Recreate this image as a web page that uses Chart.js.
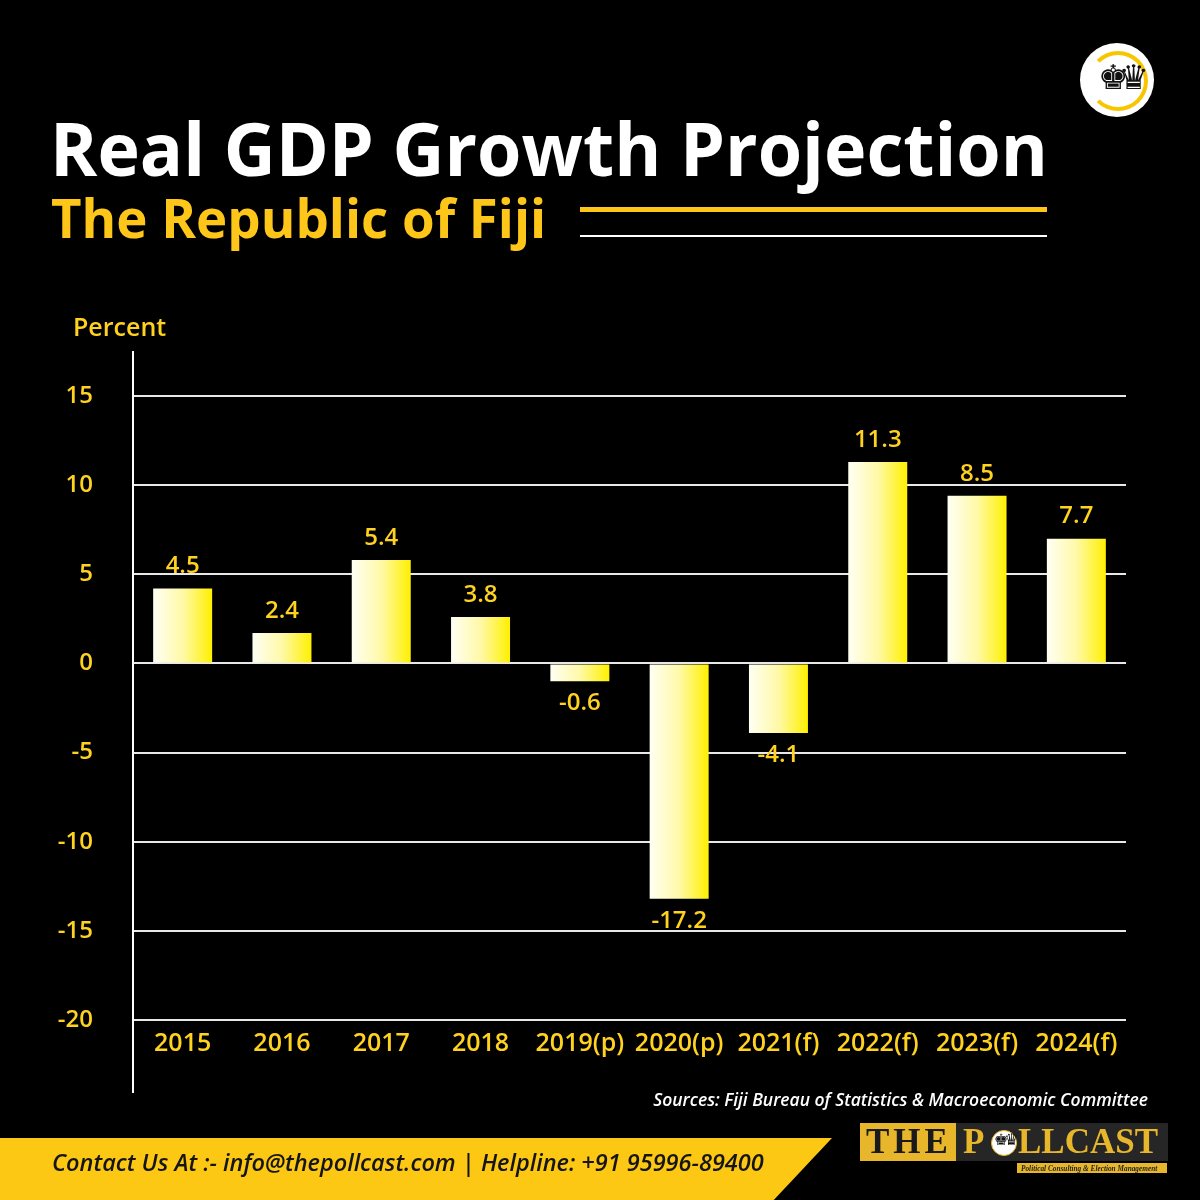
<!DOCTYPE html>
<html lang="en">

<head>
    <meta charset="UTF-8">
    <title>Real GDP Growth Projection - Fiji</title>
    <style>
        html, body { margin: 0; padding: 0; background: #000; }
        #page { position: relative; width: 1200px; height: 1200px; background: #000; overflow: hidden; font-family: 'Open Sans', sans-serif; }
        #chart { position: absolute; left: 0; top: 0; }
        .abs { position: absolute; white-space: nowrap; line-height: 1; }
        .serif { font-family: 'Liberation Serif', serif; font-weight: 700; font-size: 35px; }
    </style>
</head>

<body>
    <div id="page">
        <canvas id="chart" width="1200" height="1200"></canvas>

        <div class="abs" style="left: 50px; top: 111px; font-size: 74px; font-weight: 700; color: #fff; transform: scaleX(0.97); transform-origin: left;">Real GDP Growth Projection</div>
        <div class="abs" style="left: 51px; top: 190px; font-size: 54px; font-weight: 700; color: #ffc61a; transform: scaleX(0.978); transform-origin: left;">The Republic of Fiji</div>
        <div class="abs" style="left: 580px; top: 207px; width: 467px; height: 5px; background: #ffc61a;"></div>
        <div class="abs" style="left: 580px; top: 235px; width: 467px; height: 2px; background: #fff;"></div>

        <div class="abs" style="left: 73px; top: 314px; font-size: 25px; font-weight: 600; color: #ffd21f;">Percent</div>

        <!-- round logo top right -->
        <div class="abs" style="left: 1080px; top: 43px; width: 74px; height: 74px; border-radius: 50%; background: #fff;"></div>
        <div class="abs" style="left: 1088px; top: 51px; width: 52px; height: 52px; border-radius: 50%; border: 4px solid #f7c600; border-left-color: transparent;"></div>
        <div class="abs" style="left: 1098px; top: 60px; font-family: 'DejaVu Sans'; font-size: 34px; color: #111; letter-spacing: -10px;">&#9818;&#9819;</div>

        <div class="abs" style="right: 52px; top: 1091px; font-size: 17.5px; font-style: italic; font-weight: 600; color: #fff;">Sources: Fiji Bureau of Statistics &amp; Macroeconomic Committee</div>

        <div class="abs" style="left: 0; top: 1138px; width: 832px; height: 62px; background: #fdc814; clip-path: polygon(0 0, 100% 0, 93% 100%, 0 100%);"></div>
        <div class="abs" style="left: 52px; top: 1151px; font-size: 23.5px; font-style: italic; font-weight: 600; color: #151515;">Contact Us At :- info@thepollcast.com | Helpline: +91 95996-89400</div>

        <!-- wordmark bottom right -->
        <div class="abs" style="left: 860px; top: 1123px; width: 96px; height: 38px; background: #e7b62a;"></div>
        <div class="abs" style="left: 956px; top: 1123px; width: 212px; height: 38px; background: #262626;"></div>
        <div class="abs serif" style="left: 866px; top: 1124px; color: #1a1a1a; letter-spacing: 4px;">THE</div>
        <div class="abs serif" style="left: 963px; top: 1124px; color: #e7b62a;">P</div>
        <div class="abs" style="left: 991px; top: 1130px; width: 24px; height: 24px; border-radius: 50%; background: #fff; border: 1px solid #e7b62a;"></div>
        <div class="abs" style="left: 994px; top: 1132px; font-family: 'DejaVu Sans'; font-size: 16px; color: #111; letter-spacing: -4px;">&#9818;&#9819;</div>
        <div class="abs serif" style="left: 1018px; top: 1124px; color: #e7b62a;">LLCAST</div>
        <div class="abs" style="left: 1017px; top: 1163px; width: 150px; height: 10px; background: #e7b62a;"></div>
        <div class="abs" style="left: 1021px; top: 1164.5px; font-family: 'Liberation Serif'; font-style: italic; font-weight: 700; font-size: 7.3px; color: #222;">Political Consulting &amp; Election Management</div>
    </div>

    <script src="https://cdn.jsdelivr.net/npm/chart.js"></script>

    <script>
        const years = ['2015', '2016', '2017', '2018', '2019(p)', '2020(p)', '2021(f)', '2022(f)', '2023(f)', '2024(f)'];
        // bar heights as drawn in the picture
        const barHeights = [4.2, 1.7, 5.8, 2.6, -1.0, -13.2, -3.9, 11.3, 9.4, 7.0];
        // values printed above / below the bars
        const printedValues = ['4.5', '2.4', '5.4', '3.8', '-0.6', '-17.2', '-4.1', '11.3', '8.5', '7.7'];

        const yMin = -20;
        const yMax = 15;
        const yStep = 5;

        const yellow = '#ffd21f';
        const family = "'Open Sans', sans-serif";
        const barPct = 0.594;

        function barGradient(ctx) {
            const chart = ctx.chart;
            const xs = chart.scales.x;
            if (!xs || ctx.dataIndex === undefined || !chart.chartArea) return '#fff200';
            const cx = xs.getPixelForValue(ctx.dataIndex);
            const half = xs.width / years.length * barPct / 2;
            const g = chart.ctx.createLinearGradient(cx - half, 0, cx + half, 0);
            g.addColorStop(0, '#fffff4');
            g.addColorStop(0.5, '#fff9a8');
            g.addColorStop(1, '#fff000');
            return g;
        }

        const axisLine = {
            id: 'axisLine',
            beforeDatasetsDraw(chart) {
                const { ctx, chartArea } = chart;
                ctx.save();
                ctx.strokeStyle = '#ffffff';
                ctx.lineWidth = 2;
                ctx.beginPath();
                ctx.moveTo(chartArea.left, chartArea.top - 45);
                ctx.lineTo(chartArea.left, chartArea.bottom + 73);
                ctx.stroke();
                ctx.restore();
            }
        };

        const valueLabels = {
            id: 'valueLabels',
            afterDatasetsDraw(chart) {
                const { ctx } = chart;
                const meta = chart.getDatasetMeta(0);
                ctx.save();
                ctx.fillStyle = yellow;
                ctx.font = `600 24px ${family}`;
                ctx.textAlign = 'center';
                ctx.textBaseline = 'middle';
                meta.data.forEach((bar, i) => {
                    const v = barHeights[i];
                    const y = v >= 0 ? bar.y - 22 : bar.y + 22;
                    ctx.fillText(printedValues[i], bar.x, y);
                });
                ctx.restore();
            }
        };

        new Chart(document.getElementById('chart'), {
            type: 'bar',
            data: {
                labels: years,
                datasets: [{
                    data: barHeights,
                    backgroundColor: barGradient,
                    borderWidth: 0,
                    barPercentage: barPct,
                    categoryPercentage: 1
                }]
            },
            options: {
                responsive: false,
                animation: false,
                layout: { padding: { top: 396, right: 74, bottom: 100, left: 0 } },
                plugins: {
                    legend: { display: false },
                    tooltip: { enabled: false }
                },
                scales: {
                    x: {
                        grid: { display: false, drawTicks: false },
                        border: { display: false },
                        ticks: { color: yellow, font: { family: family, size: 25, weight: '600' }, padding: 9, maxRotation: 0, autoSkip: false },
                        afterFit: s => { s.height = 80; }
                    },
                    y: {
                        min: yMin,
                        max: yMax,
                        grid: { color: '#e8e8e8', lineWidth: 2, drawTicks: false },
                        border: { display: false },
                        ticks: { stepSize: yStep, color: yellow, font: { family: family, size: 24, weight: '600' }, padding: 40 },
                        afterFit: s => { s.width = 133; }
                    }
                }
            },
            plugins: [axisLine, valueLabels]
        });
    </script>
</body>

</html>
